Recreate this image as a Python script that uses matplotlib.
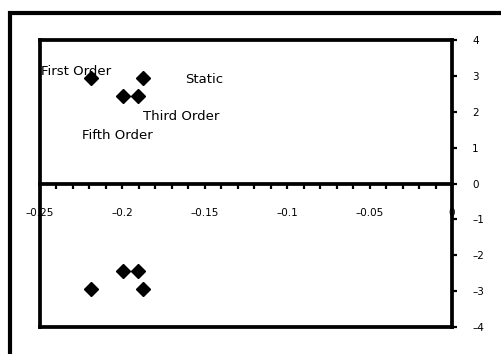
"""
Pole locations for the different model orders (root locus style plot)
"""

import matplotlib
matplotlib.use('Agg')
from matplotlib import pyplot as plt
from matplotlib.patches import Rectangle
from matplotlib.spines import Spine

# pole positions (real, imaginary) - conjugate pairs
pole_real = [-0.219, -0.1875, -0.1995, -0.1905]
pole_imag = [2.945, 2.945, 2.45, 2.45]

# labels placed in the upper half plane
label_texts = ['First Order', 'Static', 'Third Order', 'Fifth Order']
label_x = [-0.2494, -0.162, -0.1873, -0.2247]
label_y = [3.12, 2.91, 1.88, 1.34]

xtick_values = [-0.25, -0.2, -0.15, -0.1, -0.05, 0]
xtick_labels = ['\u20130.25', '\u20130.2', '\u20130.15', '\u20130.1', '\u20130.05', '0']
ytick_values = [4, 3, 2, 1, 0, -1, -2, -3, -4]
ytick_labels = ['4', '3', '2', '1', '0', '\u20131', '\u20132', '\u20133', '\u20134']

plt.rcParams['font.family'] = ['DejaVu Sans']

fig = plt.figure(figsize=(5.01, 3.54), dpi=100)

# outer frame, open to the right and bottom
frame_top = 1 - 13 / 354
fig.patches.append(Rectangle((10 / 501, -0.2), 1.2, frame_top + 0.2,
                             transform=fig.transFigure, fill=False,
                             edgecolor='black', linewidth=3))

ax = fig.add_axes([40 / 501, 1 - 327 / 354, 412 / 501, 287 / 354])
ax.set_xlim(-0.25, 0)
ax.set_ylim(-4, 4)

# poles, both halves of each conjugate pair
ax.plot(pole_real, pole_imag, 'D', color='black', ms=7, clip_on=False)
ax.plot(pole_real, [-v for v in pole_imag], 'D', color='black', ms=7, clip_on=False)

for txt, lx, ly in zip(label_texts, label_x, label_y):
    ax.text(lx, ly, txt, fontsize=9.5, ha='left', va='center')

# real axis through the middle, box bottom as an extra spine
ax.spines['bottom'].set_position(('data', 0))
box_bottom = Spine.linear_spine(ax, 'bottom')
box_bottom.set_position(('outward', 0))
ax.spines['box_bottom'] = box_bottom
for sp in ax.spines.values():
    sp.set_linewidth(2.7)
    sp.set_color('black')

ax.set_xticks(xtick_values)
ax.set_xticklabels(xtick_labels, fontsize=7.5)
ax.set_xticks([-0.25 + 0.01 * i for i in range(26)], minor=True)
ax.tick_params(axis='x', which='both', direction='out', length=3.5,
               width=1.6, pad=14)

ax.yaxis.tick_right()
ax.set_yticks(ytick_values)
ax.set_yticklabels(ytick_labels, fontsize=7.5)
ax.tick_params(axis='y', which='both', direction='out', length=3.5,
               width=1.6, pad=11)
for lab in ax.get_yticklabels():
    lab.set_horizontalalignment('left')

plt.savefig('out.png', dpi=100, facecolor='white')
plt.close()
